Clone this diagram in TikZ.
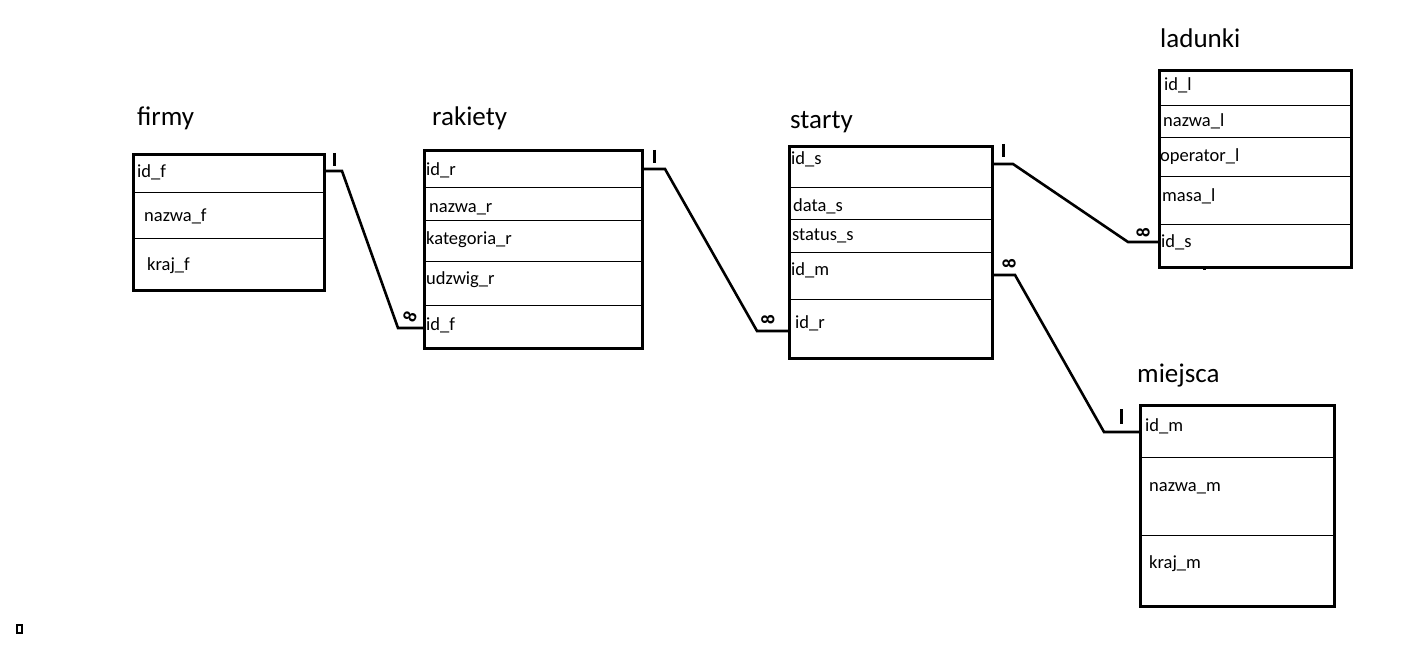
\documentclass[tikz,border=0pt]{standalone}
\usepackage{fontspec}
\setmainfont{Carlito}
\begin{document}
\begin{tikzpicture}[x=1pt,y=-1pt,
  tbl/.style={draw,line width=3pt,inner sep=0pt,anchor=north west},
  sep/.style={line width=1pt},
  fld/.style={anchor=west,inner sep=0pt,font=\fontsize{18.5}{20}\selectfont},
  ttl/.style={anchor=west,inner sep=0pt,font=\fontsize{27}{30}\selectfont},
  rel/.style={line width=2.6pt},
  one/.style={line width=3pt},
  many/.style={inner sep=0pt,font=\bfseries\fontsize{19}{19}\selectfont,rotate=90}]
\useasboundingbox (0,0) rectangle (1422,658);
% ---------- firmy
\node[ttl] (tf) at (137,118) {firmy};
\node[tbl,minimum width=191pt,minimum height=136pt] (firmy) at (132,153) {};
\draw[sep] (132,192) -- (323,192) (132,238) -- (323,238);
\node[fld] (f1) at (137,172) {id\_f};
\node[fld] (f2) at (144,216) {nazwa\_f};
\node[fld] (f3) at (147,266) {kraj\_f};
% ---------- rakiety
\node[ttl] (tr) at (432,118) {rakiety};
\node[tbl,minimum width=218pt,minimum height=198pt] (rakiety) at (423,149) {};
\draw[sep] (423,187) -- (641,187) (423,220) -- (641,220) (423,261) -- (641,261) (423,305) -- (641,305);
\node[fld] (r1) at (426,170) {id\_r};
\node[fld] (r2) at (429,209) {nazwa\_r};
\node[fld] (r3) at (426,240) {kategoria\_r};
\node[fld] (r4) at (426,280) {udzwig\_r};
\node[fld] (r5) at (426,325) {id\_f};
% ---------- starty
\node[ttl] (ts) at (790,122) {starty};
\node[tbl,minimum width=203pt,minimum height=212pt] (starty) at (788,145) {};
\draw[sep] (788,187) -- (991,187) (788,219) -- (991,219) (788,252) -- (991,252) (788,299) -- (991,299);
\node[fld] (s1) at (791,159) {id\_s};
\node[fld] (s2) at (793,206) {data\_s};
\node[fld] (s3) at (792,236) {status\_s};
\node[fld] (s4) at (791,270) {id\_m};
\node[fld] (s5) at (795,323) {id\_r};
% ---------- ladunki
\node[ttl] (tl) at (1160,38) {ladunki};
\node[tbl,minimum width=192pt,minimum height=197pt] (ladunki) at (1158,69) {};
\draw[sep] (1158,106) -- (1350,106) (1158,138) -- (1350,138) (1158,177) -- (1353,177) (1158,224) -- (1350,224);
\draw[line width=3pt] (1204,266) -- (1204,270);
\node[fld] (l1) at (1164,85) {id\_l};
\node[fld] (l2) at (1163,121) {nazwa\_l};
\node[fld] (l3) at (1160,157) {operator\_l};
\node[fld] (l4) at (1162,196) {masa\_l};
\node[fld] (l5) at (1161,242) {id\_s};
% ---------- miejsca
\node[ttl] (tm) at (1137,376) {miejsca};
\node[tbl,minimum width=194pt,minimum height=201pt] (miejsca) at (1139,404) {};
\draw[sep] (1139,457) -- (1333,457) (1139,535) -- (1333,535);
\node[fld] (m1) at (1145,426) {id\_m};
\node[fld] (m2) at (1149,488) {nazwa\_m};
\node[fld] (m3) at (1149,564) {kraj\_m};
% ---------- connector end points
\coordinate (a1) at (323,171);  \coordinate (a2) at (423,328);
\coordinate (b1) at (641,169);  \coordinate (b2) at (788,331);
\coordinate (c1) at (991,164);  \coordinate (c2) at (1158,242);
\coordinate (d1) at (991,275);  \coordinate (d2) at (1139,432);
% ---------- connectors
\draw[rel] (a1) -- ++(19,0) -- (398,328) -- (a2);
\draw[rel] (b1) -- ++(24,0) -- (757,331) -- (b2);
\draw[rel] (c1) -- ++(22,0) -- (1128,242) -- (c2);
\draw[rel] (d1) -- ++(24,0) -- (1104,432) -- (d2);
% ---------- cardinality marks
\draw[one] (334,153) -- (334,166);
\draw[one] (654,150) -- (654,163);
\draw[one] (1003,144) -- (1003,157);
\draw[one] (1121,409) -- (1121,424);
\node[many,rotate=-20] (m_a) at (410,317) {8};
\node[many] (m_b) at (768,320) {8};
\node[many] (m_c) at (1143,233) {8};
\node[many] (m_d) at (1009,264) {8};
% ---------- small mark bottom left
\draw[line width=2pt] (17,625) rectangle (22,633);
\end{tikzpicture}
\end{document}
